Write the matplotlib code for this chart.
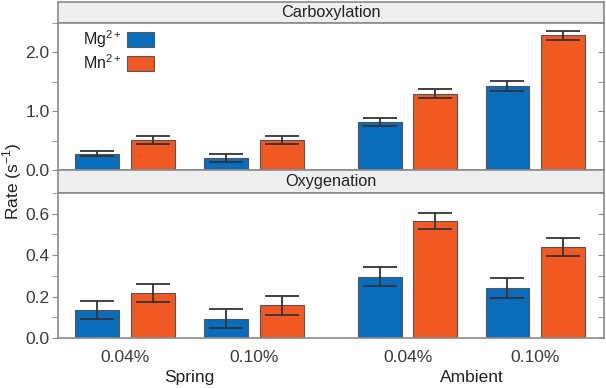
import matplotlib.pyplot as plt
import numpy as np
from matplotlib.ticker import MultipleLocator

plt.rcParams['font.family'] = ['Liberation Sans', 'DejaVu Sans']
plt.rcParams['mathtext.fontset'] = 'custom'
plt.rcParams['mathtext.rm'] = 'Liberation Sans'

conditions = ['0.04%', '0.10%', '0.04%', '0.10%']
groups = ['Spring', 'Ambient']
ions = ['Mg$^{\\mathregular{2+}}$', 'Mn$^{\\mathregular{2+}}$']

carb_mg = [0.28, 0.20, 0.82, 1.43]
carb_mg_err = [0.05, 0.07, 0.07, 0.09]
carb_mn = [0.51, 0.51, 1.30, 2.29]
carb_mn_err = [0.06, 0.06, 0.07, 0.08]

oxy_mg = [0.136, 0.092, 0.296, 0.243]
oxy_mg_err = [0.044, 0.046, 0.045, 0.048]
oxy_mn = [0.219, 0.157, 0.566, 0.441]
oxy_mn_err = [0.043, 0.047, 0.039, 0.044]

blue = '#0a6dbb'
orange = '#f05a22'
spine_col = '#8a8a8a'
text_col = '#3a3a3a'
fs = 12.5

x = np.array([0, 1, 2.19, 3.18])
w = 0.34
off = 0.215

fig = plt.figure(figsize=(6.06, 3.88), dpi=100)
W, H = 606, 388

def px_axes(x0, y0, x1, y1):
    return fig.add_axes([x0 / W, 1 - y1 / H, (x1 - x0) / W, (y1 - y0) / H])

def strip(y0, y1, title):
    s = px_axes(58, y0, 604, y1)
    s.set_facecolor('#efefef')
    s.set_xticks([])
    s.set_yticks([])
    for sp in s.spines.values():
        sp.set_color(spine_col)
        sp.set_linewidth(1.2)
    s.text(0.5, 0.48, title, ha='center', va='center', fontsize=11.7,
           color='#222222', transform=s.transAxes)

def panel(ax, mg, mg_err, mn, mn_err, ymax, major, minor):
    ekw = dict(ecolor='#333333', elinewidth=1.3, capsize=12.5, capthick=1.3)
    ax.bar(x - off, mg, w, yerr=mg_err, color=blue, edgecolor='#555555',
           linewidth=0.8, error_kw=ekw, label=ions[0], zorder=2)
    ax.bar(x + off, mn, w, yerr=mn_err, color=orange, edgecolor='#555555',
           linewidth=0.8, error_kw=ekw, label=ions[1], zorder=2)
    ax.set_xlim(-0.519, 3.713)
    ax.set_ylim(0, ymax)
    ax.yaxis.set_major_locator(MultipleLocator(major))
    ax.yaxis.set_minor_locator(MultipleLocator(minor))
    ax.yaxis.set_major_formatter(plt.FormatStrFormatter('%.1f'))
    ax.tick_params(axis='y', which='both', direction='out', length=4,
                   color=spine_col, labelcolor=text_col, labelsize=fs,
                   right=True, pad=2)
    for sp in ax.spines.values():
        sp.set_color(spine_col)
        sp.set_linewidth(1.2)
    # right-side ticks point inward
    for t in ax.yaxis.get_major_ticks() + ax.yaxis.get_minor_ticks():
        t.tick2line.set_marker(0)
    ax.tick_params(axis='x', length=0)

strip(2, 23, 'Carboxylation')
ax1 = px_axes(58, 23, 604, 170)
panel(ax1, carb_mg, carb_mg_err, carb_mn, carb_mn_err, 2.5, 1.0, 0.5)
ax1.set_xticks([])

strip(170, 193, 'Oxygenation')
ax2 = px_axes(58, 193, 604, 338)
panel(ax2, oxy_mg, oxy_mg_err, oxy_mn, oxy_mn_err, 0.7, 0.2, 0.1)
ax2.set_xticks(x)
ax2.set_xticklabels(conditions, fontsize=fs, color=text_col)
ax2.tick_params(axis='x', pad=9)

for gx, g in zip([(x[0] + x[1]) / 2, (x[2] + x[3]) / 2], groups):
    ax2.text(gx, -0.275, g, ha='center', va='center', fontsize=fs,
             color='#222222', transform=ax2.get_xaxis_transform())

ax1.legend(loc='upper right', bbox_to_anchor=(0.191, 1.02), frameon=False,
           markerfirst=False, fontsize=11.5, handlelength=1.7,
           handleheight=1.1, handletextpad=0.35, labelspacing=0.2,
           borderpad=0, labelcolor='#222222')

fig.text(12 / W, 1 - 181 / H, 'Rate (s$^{\\mathregular{-1}}$)', rotation=90,
         ha='center', va='center', fontsize=fs, color='#222222')

fig.savefig('out.png', dpi=100)
